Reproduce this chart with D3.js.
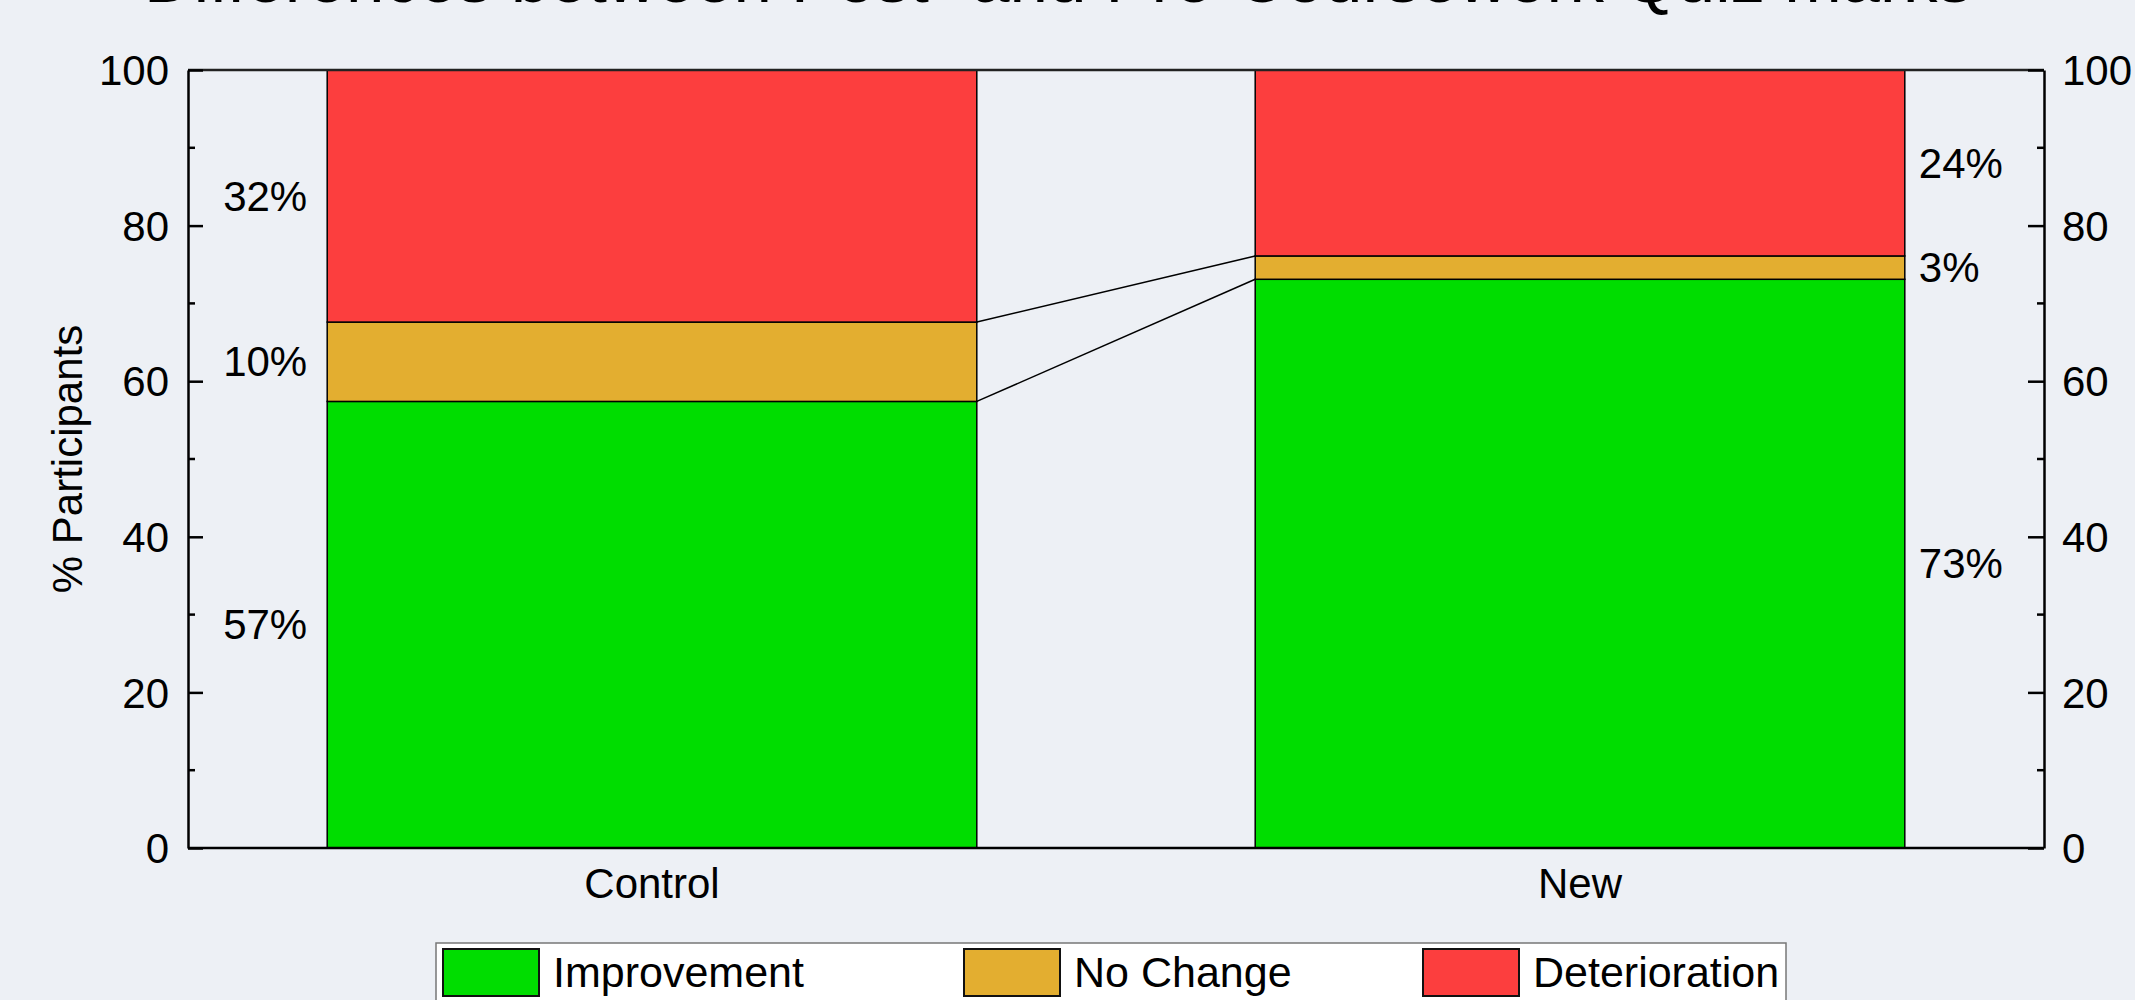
<!DOCTYPE html>
<html>
<head>
<meta charset="utf-8">
<script src="https://cdn.jsdelivr.net/npm/d3@7"></script>
<style>
  body { margin: 0; background: #edf0f5; overflow: hidden; }
  text { font-family: "Liberation Sans", Arial, sans-serif; fill: #000; }
</style>
</head>
<body>
<script>
// data
var categories = ['Control', 'New'];
var improvement = [57.4, 73.1];
var noChange = [10.2, 3.0];
var deterioration = [32.4, 23.9];
var seriesNames = ['Improvement', 'No Change', 'Deterioration'];
var seriesColors = ['#00dd00', '#e3ae30', '#fc3e3e'];
var yTicks = [0, 20, 40, 60, 80, 100];
var titleText = 'Differences between Post- and Pre-Coursework Quiz marks';
var yLabel = '% Participants';

var W = 2135, H = 1000;
// note: "top" is taken by window.top, so plot edges get their own names
var pLeft = 188, pRight = 2044, pTop = 70, pBottom = 848;

var svg = d3.select('body').append('svg')
    .attr('width', W)
    .attr('height', H);

svg.append('rect').attr('width', W).attr('height', H).attr('fill', '#edf0f5');

var x = d3.scaleLinear().domain([0.5, 2.5]).range([pLeft, pRight]);
var y = d3.scaleLinear().domain([0, 100]).range([pBottom, pTop]);
var barW = 0.7;

var rows = categories.map(function (c, i) {
    return { cat: c, idx: i + 1, 'Improvement': improvement[i], 'No Change': noChange[i], 'Deterioration': deterioration[i] };
});
var stacked = d3.stack().keys(seriesNames)(rows);

// title (mostly cut off at the top edge, as in the original)
svg.append('text')
    .attr('x', 1058)
    .attr('y', 2)
    .attr('text-anchor', 'middle')
    .style('font-size', '69px')
    .text(titleText);

// bars
var layers = svg.selectAll('g.layer').data(stacked).enter().append('g')
    .attr('class', 'layer')
    .attr('fill', function (d, i) { return seriesColors[i]; });

layers.selectAll('rect').data(function (d) { return d; }).enter().append('rect')
    .attr('x', function (d) { return x(d.data.idx - barW / 2); })
    .attr('y', function (d) { return y(d[1]); })
    .attr('width', x(barW) - x(0))
    .attr('height', function (d) { return y(d[0]) - y(d[1]); })
    .attr('stroke', '#000')
    .attr('stroke-width', 1.5);

// connector lines between the bars
[0, 1].forEach(function (k) {
    var a = stacked[k][0], b = stacked[k][1];
    svg.append('line')
        .attr('x1', x(a.data.idx + barW / 2))
        .attr('y1', y(a[1]))
        .attr('x2', x(b.data.idx - barW / 2))
        .attr('y2', y(b[1]))
        .attr('stroke', '#000')
        .attr('stroke-width', 1.5);
});

// percent labels, left of first bar and right of second
stacked.forEach(function (layer) {
    layer.forEach(function (d) {
        var first = d.data.idx === 1;
        svg.append('text')
            .attr('x', first ? x(d.data.idx - barW / 2) - 20 : x(d.data.idx + barW / 2) + 14)
            .attr('y', y((d[0] + d[1]) / 2))
            .attr('dy', '0.35em')
            .attr('text-anchor', first ? 'end' : 'start')
            .style('font-size', '42px')
            .text(Math.round(d[1] - d[0]) + '%');
    });
});

// frame
svg.append('line').attr('x1', pLeft).attr('x2', pRight).attr('y1', pTop).attr('y2', pTop)
    .attr('stroke', '#222').attr('stroke-width', 2.5);
svg.append('line').attr('x1', pLeft).attr('x2', pRight).attr('y1', pBottom).attr('y2', pBottom)
    .attr('stroke', '#000').attr('stroke-width', 2.5);

// left and right axes, ticks pointing inward
var yAxisL = d3.axisLeft(y).tickValues(yTicks).tickSize(-15).tickSizeOuter(0);
var yAxisR = d3.axisRight(y).tickValues(yTicks).tickSize(-16).tickSizeOuter(0);

var gL = svg.append('g').attr('transform', 'translate(' + pLeft + ',0)').call(yAxisL);
var gR = svg.append('g').attr('transform', 'translate(' + pRight + ',0)').call(yAxisR);

[gL, gR].forEach(function (g) {
    g.attr('font-family', null).attr('font-size', null);
    g.select('.domain').attr('stroke', '#000').attr('stroke-width', 2.5);
    g.selectAll('.tick line').attr('stroke', '#000').attr('stroke-width', 2.5);
    g.selectAll('.tick text').style('font-size', '42px').attr('dy', '0.35em');
});
gL.selectAll('.tick text').attr('x', -19);
gR.selectAll('.tick text').attr('x', 18);

// minor ticks
var minor = d3.range(10, 100, 20);
minor.forEach(function (v) {
    svg.append('line').attr('x1', pLeft).attr('x2', pLeft + 7).attr('y1', y(v)).attr('y2', y(v))
        .attr('stroke', '#000').attr('stroke-width', 2.5);
    svg.append('line').attr('x1', pRight).attr('x2', pRight - 7).attr('y1', y(v)).attr('y2', y(v))
        .attr('stroke', '#000').attr('stroke-width', 2.5);
});

// category labels
svg.selectAll('text.cat').data(categories).enter().append('text')
    .attr('class', 'cat')
    .attr('x', function (d, i) { return x(i + 1); })
    .attr('y', 898)
    .attr('text-anchor', 'middle')
    .style('font-size', '42px')
    .text(function (d) { return d; });

// y axis title
svg.append('text')
    .attr('transform', 'translate(82,' + (pTop + pBottom) / 2 + ') rotate(-90)')
    .attr('text-anchor', 'middle')
    .style('font-size', '42px')
    .text(yLabel);

// legend
var legend = svg.append('g');
legend.append('rect')
    .attr('x', 436).attr('y', 943)
    .attr('width', 1350).attr('height', 80)
    .attr('fill', '#fff')
    .attr('stroke', '#777')
    .attr('stroke-width', 1.5);

var legX = [443, 964, 1423];
seriesNames.forEach(function (name, i) {
    legend.append('rect')
        .attr('x', legX[i]).attr('y', 949)
        .attr('width', 96).attr('height', 47)
        .attr('fill', seriesColors[i])
        .attr('stroke', '#111')
        .attr('stroke-width', 2);
    legend.append('text')
        .attr('x', legX[i] + 110)
        .attr('y', 987)
        .style('font-size', '43px')
        .text(name);
});
</script>
</body>
</html>
